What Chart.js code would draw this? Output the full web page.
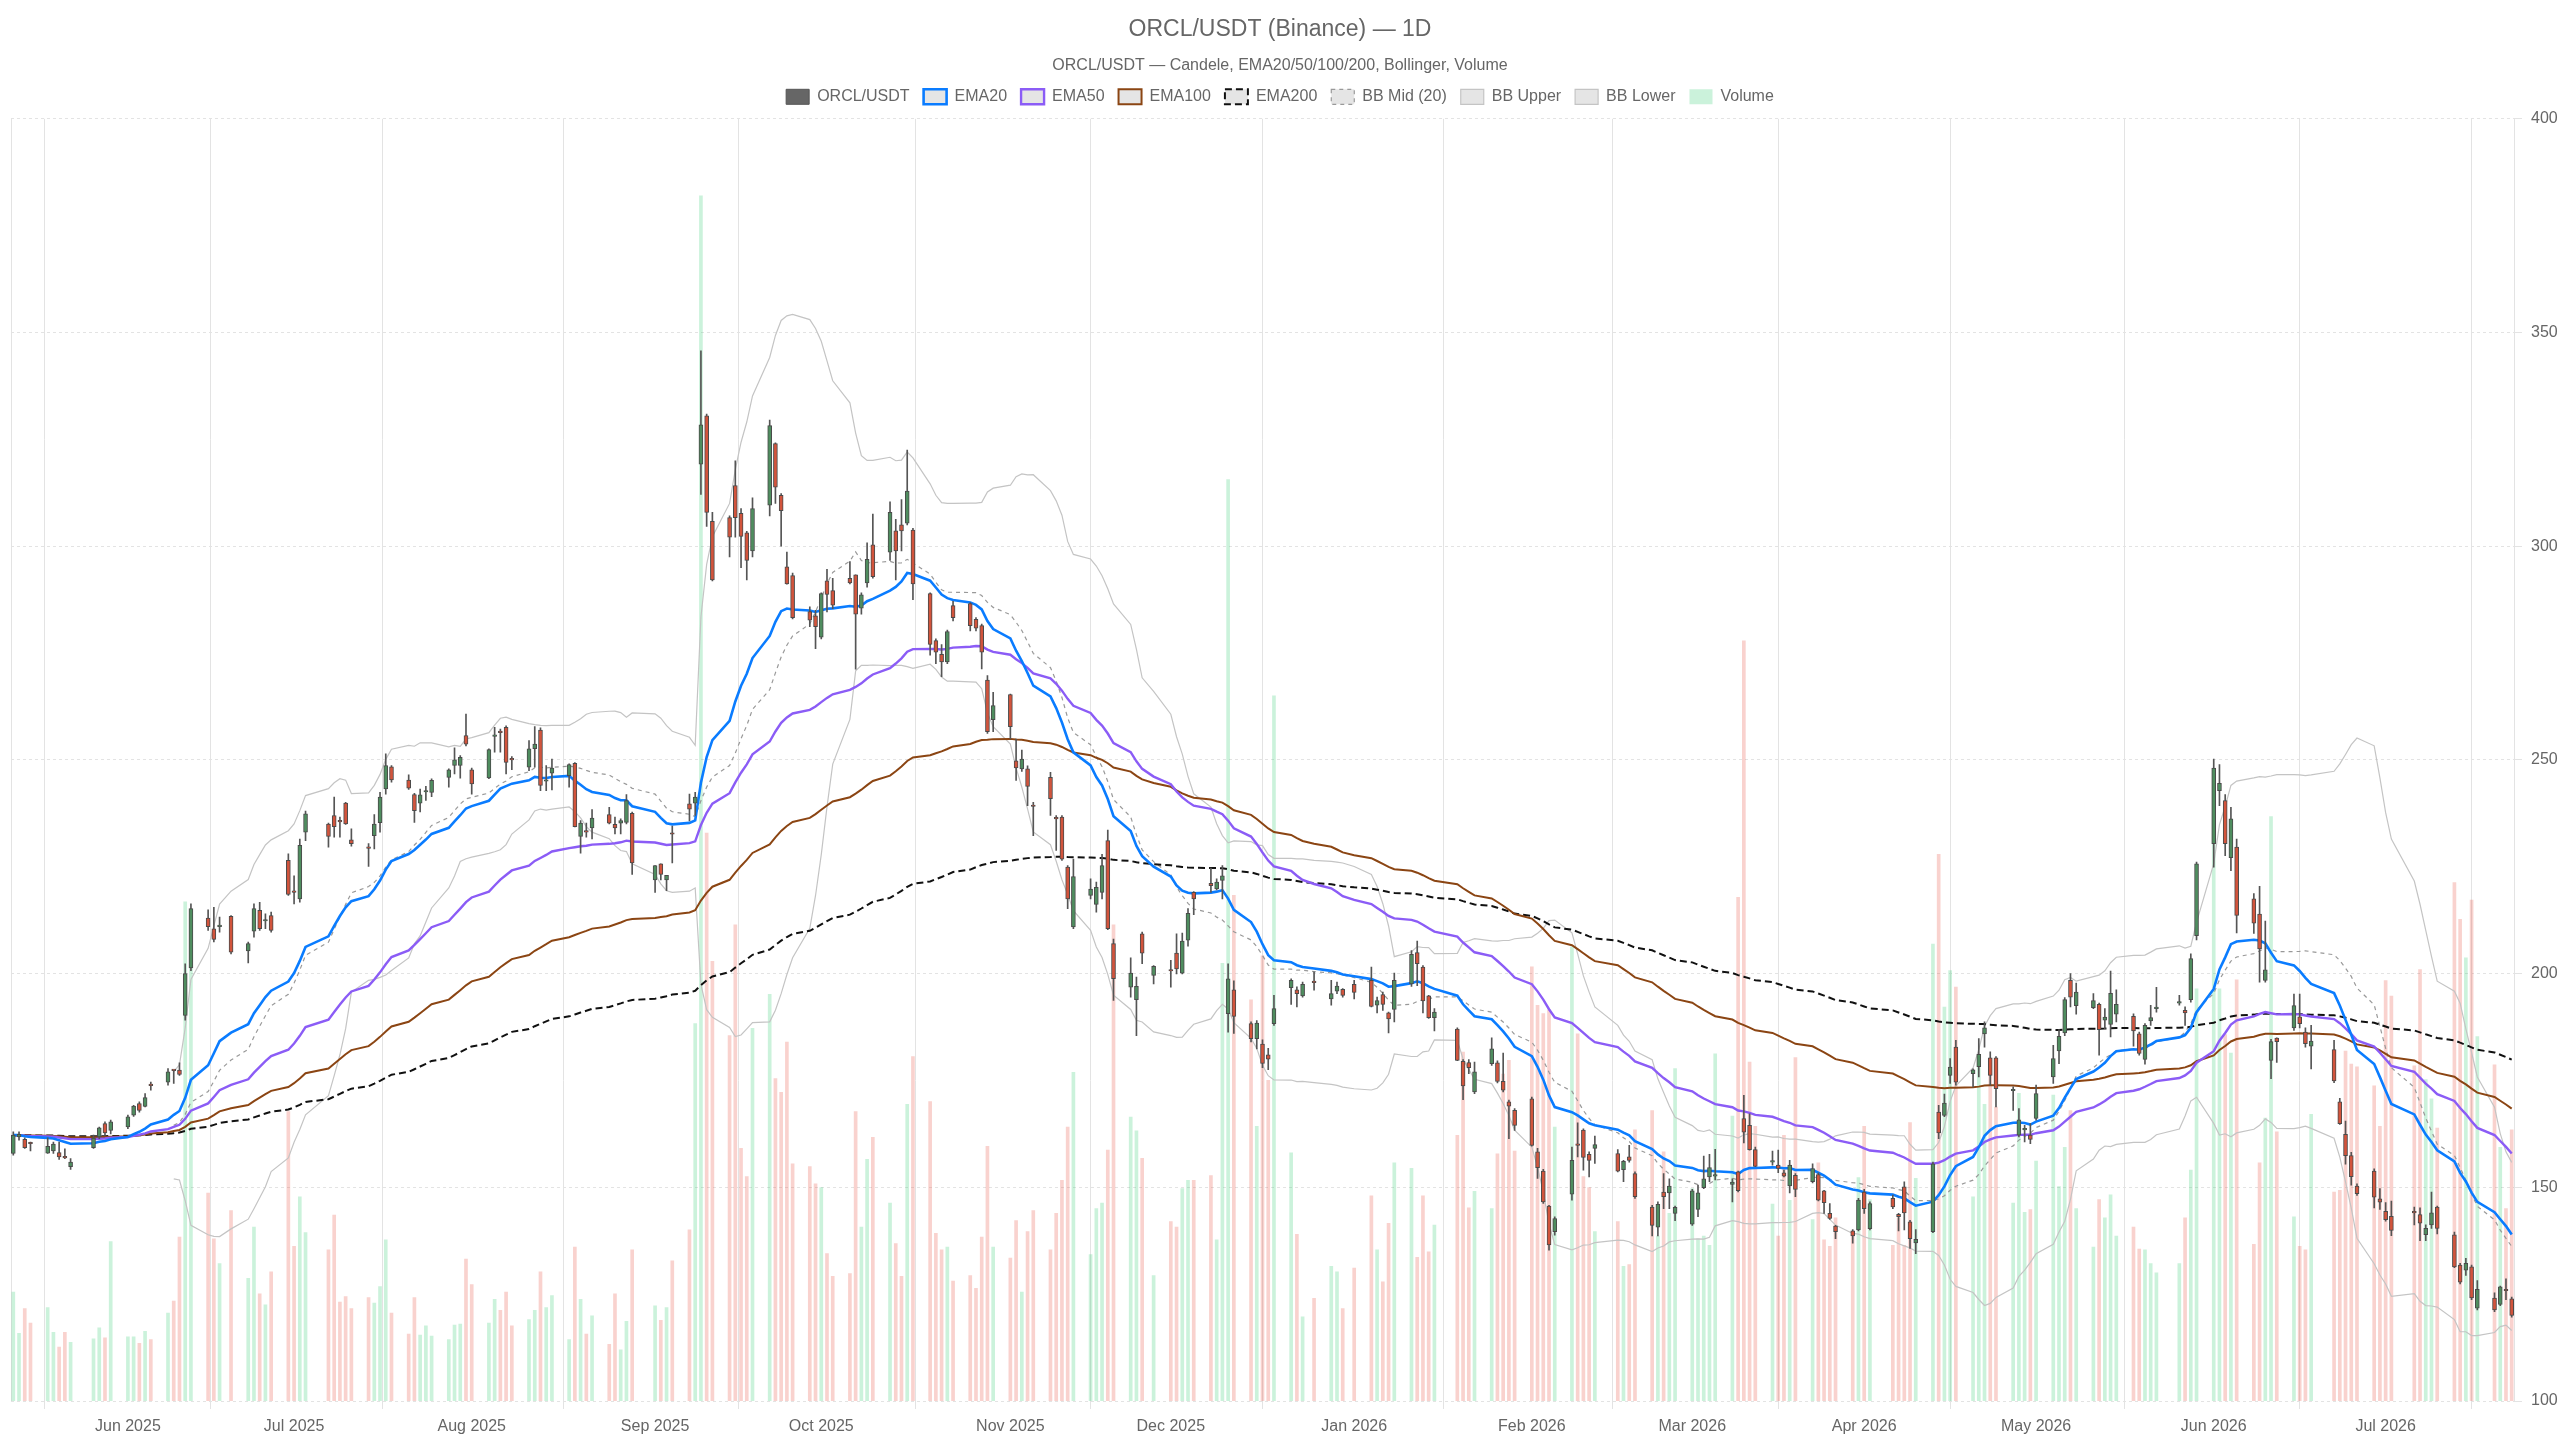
<!DOCTYPE html>
<html>
<head>
<meta charset="utf-8">
<title>ORCL/USDT (Binance) — 1D</title>
<script src="https://cdn.jsdelivr.net/npm/chart.js@4.4.1/dist/chart.umd.min.js"></script>
<style>
  html, body { margin: 0; padding: 0; background: #fff; }
  #wrap { width: 2560px; height: 1440px; }
</style>
</head>
<body>
<div id="wrap"><canvas id="candleChart"></canvas></div>
<script>
// trading calendar: weekdays between these dates, minus exchange holidays
const firstDay = '2025-05-13';
const lastDay = '2026-07-23';
const holidays = [
	'2025-05-26', '2025-06-19', '2025-07-04', '2025-09-01', '2025-11-27', '2025-12-25',
	'2026-01-01', '2026-01-19', '2026-02-16', '2026-04-03', '2026-05-25', '2026-06-19', '2026-07-03',
];

// daily candles, one line per week
const open = [
	157.9, 161.8, 161.2, 160.3,
	158.0, 158.5, 158.1, 157.2, 154.8,
	159.3, 161.8, 164.9, 163.3,
	164.1, 166.9, 169.6, 168.9, 173.9,
	174.6, 177.4, 177.4, 190.2, 201.3,
	213.0, 210.5, 211.0, 213.4,
	205.3, 209.9, 214.8, 212.3, 213.6,
	226.5, 219.1, 217.5, 233.1,
	235.0, 237.0, 235.7, 239.9, 231.3,
	229.4, 232.3, 235.3, 243.2, 248.4,
	245.3, 241.9, 239.9, 242.5, 242.4,
	245.9, 248.7, 248.7, 255.7, 247.7,
	245.8, 255.5, 256.6, 257.6, 250.2,
	248.3, 252.6, 257.0, 245.0, 246.9,
	246.3, 249.2, 232.1, 233.2, 234.1,
	237.2, 234.9, 235.2, 235.4, 237.5,
	221.9, 225.7, 221.9, 232.7,
	239.7, 239.9, 319.2, 330.5, 305.8,
	306.7, 314.2, 307.7, 303.1, 298.9,
	309.6, 324.0, 311.9, 295.2, 293.1,
	284.7, 283.7, 278.7, 291.9, 289.6,
	292.5, 293.3, 285.5, 291.4, 300.3,
	298.6, 303.6, 305.0, 305.4, 303.8,
	288.9, 277.9, 274.7, 272.9, 286.1,
	286.6, 282.9, 281.4, 268.7, 259.4,
	265.3, 249.8, 247.9, 247.9, 239.2,
	245.9, 236.3, 236.6, 224.9, 210.9,
	218.3, 216.2, 219.0, 231.1, 207.0,
	196.8, 193.9, 209.3, 199.6,
	200.7, 204.8, 200.1, 207.8, 219.0,
	221.1, 219.8, 221.8, 190.6, 196.2,
	188.3, 184.8, 183.5, 181.0, 188.3,
	196.7, 196.2, 194.8, 198.0,
	194.1, 195.9, 196.3, 197.5,
	198.4, 192.6, 195.1, 190.8, 191.6,
	197.6, 204.9, 201.5, 194.8, 189.7,
	187.0, 179.5, 179.2, 172.3,
	178.9, 179.1, 174.8, 170.0, 168.0,
	170.7, 158.3, 153.8, 145.6, 139.6,
	148.4, 159.9, 163.4, 157.7, 159.1,
	157.9, 154.1, 157.1, 153.2,
	145.4, 140.7, 148.9, 148.7, 143.9,
	141.4, 144.8, 149.9, 152.4, 152.6,
	150.7, 153.6, 166.1, 164.5, 158.8,
	155.9, 155.2, 153.4, 150.3, 152.8,
	151.3, 153.0, 149.2, 143.9, 140.9,
	139.8, 140.0, 148.9, 140.3,
	147.4, 143.7, 150.1, 141.9, 137.0,
	139.6, 167.6, 166.8, 176.2, 182.8,
	176.6, 178.2, 185.9, 180.3, 180.3,
	172.6, 162.2, 163.4, 162.2, 166.1,
	175.8, 181.9, 186.1, 198.4, 192.5,
	192.0, 192.8, 189.1, 188.1, 190.5,
	190.0, 185.9, 179.9, 188.9, 191.8,
	193.1, 191.4, 193.9, 208.9,
	230.4, 242.8, 240.5, 227.1, 229.6,
	217.5, 213.9, 198.4, 179.7, 184.9,
	187.3, 189.9, 186.3, 183.0,
	182.2, 170.0, 162.4, 157.4, 150.3,
	153.8, 147.3, 144.4, 143.2,
	144.1, 143.6, 138.9, 141.2, 145.4,
	138.9, 131.8, 130.6, 131.4, 121.7,
	124.1, 122.6, 125.9, 123.9,
];

const high = [
	163.0, 163.0, 161.6, 160.6,
	161.6, 160.6, 160.6, 159.0, 156.7,
	162.2, 164.1, 165.3, 165.7,
	166.9, 169.2, 170.0, 171.9, 174.6,
	177.8, 177.5, 179.1, 202.3, 216.3,
	214.9, 215.5, 213.2, 213.6,
	207.4, 216.3, 216.7, 214.0, 214.4,
	228.0, 222.9, 231.5, 238.0,
	235.2, 241.3, 236.6, 240.1, 233.9,
	230.4, 237.2, 242.4, 251.4, 248.7,
	246.5, 242.2, 243.2, 243.8, 245.6,
	247.9, 252.8, 251.0, 260.7, 248.1,
	252.6, 257.6, 257.2, 258.0, 250.8,
	254.5, 257.8, 257.5, 248.7, 250.2,
	249.1, 249.4, 235.8, 235.2, 238.4,
	238.9, 236.6, 236.2, 241.9, 237.8,
	225.3, 225.7, 223.0, 234.5,
	242.0, 242.4, 345.7, 330.9, 307.9,
	307.1, 320.0, 308.8, 303.5, 311.3,
	329.5, 324.2, 312.3, 298.6, 293.7,
	285.8, 285.0, 289.1, 294.6, 292.5,
	296.4, 293.3, 289.1, 300.8, 307.5,
	310.4, 306.3, 310.9, 322.5, 304.2,
	289.1, 278.3, 277.0, 280.4, 287.1,
	286.8, 283.3, 281.8, 269.7, 265.8,
	265.4, 254.9, 252.3, 248.6, 240.1,
	247.1, 237.0, 237.0, 225.3, 226.8,
	222.2, 221.4, 227.9, 233.6, 208.1,
	203.7, 199.2, 209.7, 201.9,
	203.1, 209.3, 209.5, 215.2, 219.2,
	224.7, 222.2, 225.3, 202.3, 198.3,
	188.7, 189.0, 184.5, 182.5, 194.9,
	198.8, 196.9, 198.0, 200.4,
	198.4, 198.0, 196.5, 198.4,
	201.5, 194.5, 195.7, 191.0, 200.1,
	205.4, 207.6, 201.9, 194.9, 191.8,
	187.3, 179.9, 179.9, 179.3,
	185.0, 179.6, 181.4, 170.4, 168.4,
	171.1, 159.1, 154.2, 145.8, 143.1,
	159.4, 165.1, 163.7, 158.3, 162.0,
	158.8, 156.3, 159.8, 153.6,
	145.8, 146.6, 153.2, 152.0, 145.6,
	149.5, 150.5, 157.3, 157.7, 158.9,
	152.0, 153.8, 171.5, 167.2, 159.4,
	158.5, 158.7, 154.0, 156.3, 153.2,
	155.5, 153.4, 149.3, 146.2, 141.1,
	140.1, 147.4, 149.5, 146.6,
	148.2, 143.9, 151.3, 142.3, 140.1,
	155.9, 169.2, 171.8, 180.1, 184.4,
	177.7, 184.8, 188.7, 181.7, 180.6,
	173.5, 168.4, 164.5, 164.9, 173.9,
	183.2, 186.9, 194.4, 200.0, 197.8,
	195.3, 193.1, 191.8, 200.6, 196.2,
	190.6, 186.3, 188.3, 192.6, 196.8,
	194.9, 192.2, 204.6, 226.1,
	250.2, 248.9, 241.9, 238.9, 231.5,
	218.7, 220.4, 212.3, 184.6, 185.0,
	195.2, 195.2, 187.3, 187.9,
	184.4, 170.8, 165.5, 158.2, 150.8,
	154.3, 149.7, 146.4, 146.8,
	145.4, 145.2, 141.2, 148.9, 145.6,
	139.5, 132.2, 133.4, 131.8, 128.2,
	125.3, 126.9, 128.6, 124.3,
];

const low = [
	157.5, 161.0, 159.1, 158.5,
	157.9, 157.9, 156.5, 156.7, 154.2,
	159.1, 161.4, 162.2, 162.5,
	163.7, 166.6, 167.6, 168.8, 172.7,
	173.9, 174.3, 176.2, 189.1, 200.7,
	210.1, 207.4, 209.7, 204.6,
	202.5, 208.5, 210.1, 210.5, 209.7,
	218.3, 216.3, 216.7, 231.1,
	229.6, 231.9, 231.9, 234.9, 229.8,
	225.1, 229.2, 233.1, 242.0, 244.8,
	243.1, 235.4, 237.8, 240.5, 241.4,
	243.6, 246.7, 245.7, 253.3, 242.0,
	245.6, 251.8, 251.8, 246.7, 247.7,
	247.5, 248.3, 242.8, 242.8, 243.0,
	243.6, 234.3, 228.2, 231.9, 231.5,
	235.0, 232.7, 232.7, 235.0, 223.2,
	219.0, 221.9, 219.4, 225.9,
	235.7, 237.0, 312.1, 304.6, 291.9,
	297.5, 302.1, 295.0, 292.1, 297.5,
	307.1, 310.0, 300.0, 291.1, 283.0,
	281.2, 276.0, 278.3, 284.6, 285.4,
	291.2, 271.2, 284.1, 290.4, 292.5,
	296.7, 292.1, 298.9, 305.0, 287.5,
	274.5, 272.5, 269.5, 272.5, 282.5,
	280.2, 280.2, 271.3, 256.2, 256.6,
	254.9, 245.2, 247.3, 239.3, 232.3,
	237.0, 228.8, 226.5, 215.2, 210.5,
	217.5, 214.4, 217.5, 210.3, 193.7,
	194.5, 185.5, 202.3, 197.6,
	196.8, 199.9, 199.9, 206.4, 213.8,
	219.0, 219.6, 217.5, 186.3, 186.0,
	184.0, 182.4, 178.0, 177.5, 187.9,
	192.8, 192.2, 194.5, 196.1,
	192.6, 195.3, 194.5, 194.1,
	192.2, 190.8, 191.4, 186.1, 188.7,
	197.0, 197.2, 190.8, 189.5, 186.6,
	179.6, 170.5, 176.6, 171.9,
	178.5, 174.4, 172.3, 161.4, 163.3,
	159.6, 152.1, 146.2, 135.3, 138.8,
	147.0, 157.1, 154.0, 152.4, 155.6,
	153.6, 151.3, 155.9, 147.4,
	138.6, 138.6, 145.0, 145.0, 142.2,
	141.1, 143.1, 149.7, 151.3, 151.7,
	146.6, 148.9, 160.4, 158.7, 154.8,
	155.2, 153.4, 152.4, 148.7, 147.8,
	151.0, 146.8, 143.9, 142.5, 138.0,
	136.9, 139.8, 143.9, 140.0,
	145.0, 139.8, 140.0, 135.7, 134.5,
	139.4, 161.4, 166.5, 174.3, 173.9,
	173.5, 175.8, 182.8, 173.9, 168.8,
	168.0, 161.8, 160.6, 160.2, 165.7,
	174.3, 178.9, 185.5, 192.2, 190.5,
	191.8, 180.9, 187.1, 185.2, 188.7,
	183.0, 180.9, 178.8, 187.9, 191.0,
	192.6, 187.9, 193.3, 207.9,
	224.9, 239.3, 227.6, 224.1, 209.5,
	209.4, 198.0, 198.0, 175.4, 179.2,
	186.7, 187.3, 182.8, 177.7,
	174.5, 164.7, 155.4, 150.5, 148.1,
	145.2, 144.8, 142.1, 138.7,
	141.2, 137.5, 137.5, 140.4, 139.1,
	131.2, 127.4, 129.4, 123.7, 121.3,
	120.9, 122.3, 123.7, 119.6,
];

const close = [
	162.2, 162.4, 159.3, 160.2,
	159.6, 160.1, 157.1, 156.9, 155.9,
	161.5, 163.9, 162.7, 165.3,
	166.5, 169.0, 168.0, 171.0, 173.8,
	177.0, 177.3, 176.4, 200.0, 215.2,
	211.0, 208.0, 211.1, 205.0,
	207.0, 215.2, 210.5, 212.5, 210.1,
	218.5, 219.0, 230.0, 237.4,
	232.1, 234.4, 235.5, 235.0, 230.4,
	229.3, 235.0, 241.3, 248.7, 245.3,
	243.4, 238.1, 241.8, 242.8, 245.2,
	247.7, 250.0, 250.6, 253.7, 244.4,
	252.4, 255.7, 256.4, 249.4, 250.0,
	252.6, 253.7, 244.0, 245.2, 248.1,
	248.9, 234.4, 235.2, 233.1, 236.4,
	235.2, 234.1, 235.8, 240.5, 225.9,
	225.3, 223.2, 223.0, 232.6,
	238.5, 241.3, 328.4, 307.9, 292.1,
	302.1, 306.7, 302.3, 296.7, 308.8,
	328.2, 313.8, 308.3, 291.2, 283.3,
	282.7, 281.2, 288.9, 288.7, 286.2,
	291.4, 284.1, 288.6, 296.9, 292.9,
	307.9, 298.9, 303.6, 312.9, 291.2,
	277.0, 275.2, 272.9, 280.0, 283.3,
	281.4, 280.8, 275.2, 256.6, 262.7,
	257.8, 248.1, 250.2, 243.8, 239.1,
	240.9, 236.2, 226.8, 217.5, 222.7,
	219.8, 220.2, 225.3, 210.5, 198.8,
	200.1, 197.0, 204.8, 201.7,
	200.6, 201.1, 207.6, 214.1, 217.5,
	220.6, 221.4, 222.9, 198.8, 190.0,
	184.8, 188.4, 179.0, 180.0, 191.8,
	198.4, 195.3, 197.5, 197.9,
	195.3, 197.1, 194.9, 195.6,
	192.3, 193.7, 192.8, 189.4, 198.4,
	204.5, 202.3, 193.6, 189.7, 191.0,
	179.7, 173.7, 178.0, 177.0,
	182.4, 174.8, 172.7, 169.0, 164.5,
	159.8, 154.6, 146.6, 136.5, 142.7,
	156.3, 159.8, 157.0, 156.3, 160.0,
	153.8, 156.1, 156.3, 147.8,
	141.1, 146.0, 147.8, 150.3, 145.3,
	149.2, 148.7, 152.0, 154.6, 152.7,
	151.2, 149.2, 162.9, 158.8, 154.9,
	156.0, 154.4, 152.6, 155.2, 149.5,
	154.4, 147.0, 146.4, 142.7, 139.6,
	138.6, 147.0, 145.0, 146.2,
	145.4, 143.1, 144.0, 138.0, 137.8,
	155.5, 162.7, 169.7, 178.1, 174.6,
	177.5, 181.1, 187.3, 176.2, 173.1,
	172.7, 165.8, 163.8, 161.2, 171.9,
	180.1, 185.3, 193.9, 194.5, 195.7,
	193.7, 186.9, 189.8, 195.4, 192.8,
	186.6, 181.3, 187.9, 189.7, 191.9,
	193.2, 190.8, 203.5, 225.7,
	248.1, 244.5, 230.4, 236.2, 213.6,
	211.8, 205.8, 200.9, 184.1, 184.1,
	192.5, 188.3, 183.6, 184.2,
	174.9, 164.9, 157.4, 152.5, 148.5,
	147.7, 146.5, 142.4, 139.9,
	144.0, 141.6, 140.4, 144.0, 140.4,
	131.4, 127.8, 132.2, 124.1, 126.1,
	121.3, 126.7, 125.8, 120.0,
];

// volume in millions
const volume = [
	11.9, 7.4, 10.1, 8.5,
	10.2, 7.5, 5.9, 7.5, 6.4,
	6.8, 8.0, 6.9, 17.4,
	7.0, 7.0, 6.3, 7.6, 6.7,
	9.6, 10.9, 17.9, 54.5, 52.0,
	22.7, 17.7, 15.0, 20.8,
	13.4, 19.0, 11.7, 10.5, 14.1,
	31.6, 16.9, 22.3, 18.4,
	16.5, 20.3, 10.8, 11.4, 10.1,
	11.3, 10.7, 12.5, 17.6, 9.6,
	7.3, 11.3, 7.2, 8.2, 7.1,
	6.7, 8.3, 8.4, 15.5, 12.7,
	8.5, 11.1, 9.9, 11.9, 8.2,
	8.9, 9.9, 14.1, 10.2, 11.5,
	6.7, 16.8, 11.1, 7.3, 9.3,
	6.2, 11.7, 5.6, 8.7, 16.5,
	10.4, 8.8, 10.2, 15.3,
	18.7, 41.2, 131.6, 62.0, 48.0,
	39.9, 52.0, 27.6, 24.5, 40.7,
	44.4, 35.2, 33.7, 39.2, 25.9,
	25.6, 23.7, 23.3, 16.1, 13.6,
	13.9, 31.6, 19.0, 26.4, 28.8,
	21.6, 17.2, 13.6, 32.4, 37.6,
	32.7, 18.3, 16.5, 16.8, 13.1,
	13.7, 12.3, 17.9, 27.8, 16.8,
	15.6, 19.7, 11.9, 18.5, 20.8,
	16.5, 20.5, 24.1, 29.9, 35.9,
	16.0, 21.0, 21.6, 27.4, 52.0,
	31.0, 29.5, 26.5, 13.7,
	19.6, 19.0, 23.2, 24.1, 24.1,
	24.6, 17.6, 47.8, 100.6, 55.2,
	43.8, 30.0, 48.6, 35.0, 77.0,
	27.1, 18.2, 9.2, 11.2,
	14.7, 14.1, 10.1, 14.5,
	22.4, 16.5, 13.0, 19.4, 26.0,
	25.4, 15.7, 22.4, 16.3, 19.2,
	29.0, 38.1, 21.1, 22.9,
	21.0, 27.0, 35.7, 37.2, 27.3,
	47.4, 43.2, 42.3, 42.7, 29.9,
	49.6, 40.1, 24.5, 23.3, 18.5,
	19.6, 14.7, 14.9, 29.6,
	31.7, 18.0, 27.2, 20.5, 36.3,
	23.2, 17.7, 18.0, 17.0, 37.9,
	31.1, 55.0, 83.0, 37.0, 30.0,
	21.5, 18.0, 29.0, 21.9, 37.5,
	19.8, 26.0, 17.6, 16.9, 20.0,
	18.0, 24.4, 30.0, 22.0,
	17.0, 20.0, 17.0, 30.4, 24.3,
	49.9, 59.7, 43.0, 47.0, 45.2,
	22.3, 37.7, 32.4, 35.7, 32.1,
	21.6, 33.6, 20.6, 20.9, 26.2,
	33.4, 23.4, 27.7, 31.7, 21.0,
	16.8, 22.0, 20.0, 22.5, 18.0,
	19.0, 16.6, 16.5, 15.0, 14.0,
	15.0, 20.0, 25.2, 45.0,
	64.0, 45.0, 40.0, 38.0, 46.0,
	17.1, 26.0, 30.9, 63.8, 29.4,
	20.1, 16.9, 16.5, 31.3,
	22.8, 23.0, 38.2, 36.8, 36.5,
	34.4, 30.0, 45.9, 44.2,
	36.6, 47.1, 35.1, 33.0, 29.8,
	56.6, 52.6, 48.4, 54.7, 39.8,
	36.7, 27.7, 21.0, 29.6,
];

// x axis labels sit on the first trading day of each month
const monthStarts = [
	'2025-06-01', '2025-07-01', '2025-08-01', '2025-09-01', '2025-10-01', '2025-11-01', '2025-12-01',
	'2026-01-01', '2026-02-01', '2026-03-01', '2026-04-01', '2026-05-01', '2026-06-01', '2026-07-01',
];
const monthLabels = [
	'Jun 2025', 'Jul 2025', 'Aug 2025', 'Sep 2025', 'Oct 2025', 'Nov 2025', 'Dec 2025',
	'Jan 2026', 'Feb 2026', 'Mar 2026', 'Apr 2026', 'May 2026', 'Jun 2026', 'Jul 2026',
];

const DAY = 86400000;
const dayOf = (iso) => Math.round((Date.parse(iso) - Date.parse(firstDay)) / DAY);

const buildTradingDays = () => {
	const days = [];
	for (let d = 0; d <= dayOf(lastDay); d++) {
		const dt = new Date(Date.parse(firstDay) + d * DAY);
		const wd = dt.getUTCDay();
		if (wd === 0 || wd === 6) continue;
		if (holidays.includes(dt.toISOString().slice(0, 10))) continue;
		days.push(d);
	}
	return days;
};

const ema = (values, n) => {
	const k = 2 / (n + 1);
	const out = [];
	values.forEach((v, i) => {
		out.push(i === 0 ? v : v * k + out[i - 1] * (1 - k));
	});
	return out;
};

const bollinger = (values, n, mult) => {
	const mid = [], upper = [], lower = [];
	values.forEach((v, i) => {
		if (i < n - 1) {
			mid.push(null); upper.push(null); lower.push(null);
			return;
		}
		const win = values.slice(i - n + 1, i + 1);
		const mean = win.reduce((a, b) => a + b, 0) / n;
		const sd = Math.sqrt(win.reduce((a, b) => a + (b - mean) * (b - mean), 0) / n);
		mid.push(mean); upper.push(mean + mult * sd); lower.push(mean - mult * sd);
	});
	return { mid, upper, lower };
};

const days = buildTradingDays();
if (days.length !== close.length) console.warn('calendar/data mismatch', days.length, close.length);

const UP = '#4f8d5f';
const DOWN = '#d2543c';
const isUp = days.map((d, i) => close[i] >= open[i]);

const points = (arr) => days.map((d, i) => ({ x: d, y: arr[i] }));
const bb = bollinger(close, 20, 2);

// label ticks on month openings, grid lines halfway between them (offset grid)
const labelTicks = monthStarts.map((iso) => days.find((d) => d >= dayOf(iso)));
const gridTicks = labelTicks.map((t, i) => (i === 0 ? t - (labelTicks[1] - t) / 2 : (t + labelTicks[i - 1]) / 2));
const lastTick = labelTicks[labelTicks.length - 1];
gridTicks.push(lastTick + (lastTick - labelTicks[labelTicks.length - 2]) / 2);

const labelFor = {};
labelTicks.forEach((d, i) => { labelFor[d] = monthLabels[i]; });
const gridSet = new Set(gridTicks);

const xMin = days[0] - 0.4;
const xMax = days[days.length - 1] + 0.4;

const lineSet = (label, arr, color, width, dash, order) => ({
	type: 'line',
	label: label,
	data: points(arr),
	borderColor: color,
	borderWidth: width,
	borderDash: dash || [],
	pointRadius: 0,
	pointHoverRadius: 0,
	tension: 0,
	yAxisID: 'y',
	order: order,
});

const createCandleChart = () => {
	const canvas = document.querySelector('#candleChart');
	new Chart(canvas, {
		type: 'bar',
		data: {
			datasets: [
				{
					label: 'ORCL/USDT',
					data: days.map((d, i) => ({ x: d, y: [open[i], close[i]] })),
					backgroundColor: isUp.map((u) => (u ? UP : DOWN)),
					borderColor: '#4a4a4a',
					borderWidth: 1,
					borderSkipped: false,
					barThickness: 4,
					minBarLength: 1.5,
					grouped: false,
					yAxisID: 'y',
					order: 0,
				},
				lineSet('EMA20', ema(close, 20), '#0a7cff', 2.6, null, 1),
				lineSet('EMA50', ema(close, 50), '#8b5cf6', 2.4, null, 2),
				lineSet('EMA100', ema(close, 100), '#8b4513', 2, null, 3),
				lineSet('EMA200', ema(close, 200), '#111111', 2, [7, 4], 4),
				lineSet('BB Mid (20)', bb.mid, '#999999', 1.2, [4, 4], 5),
				lineSet('BB Upper', bb.upper, '#c4c4c4', 1.2, null, 6),
				lineSet('BB Lower', bb.lower, '#c4c4c4', 1.2, null, 7),
				{
					label: 'Volume',
					data: days.map((d, i) => ({ x: d, y: volume[i] })),
					backgroundColor: isUp.map((u) => (u ? 'rgba(46, 204, 113, 0.25)' : 'rgba(231, 76, 60, 0.25)')),
					borderWidth: 0,
					barThickness: 3,
					grouped: false,
					yAxisID: 'vol',
					order: 8,
				},
				{
					label: 'wick',
					data: days.map((d, i) => ({ x: d, y: [low[i], high[i]] })),
					backgroundColor: '#555555',
					borderWidth: 0,
					barThickness: 1,
					grouped: false,
					yAxisID: 'y',
					order: 0.5,
				},
			],
		},
		options: {
			responsive: true,
			maintainAspectRatio: false,
			animation: false,
			layout: { padding: { top: 6, left: 0, right: 0, bottom: 0 } },
			plugins: {
				title: {
					display: true,
					text: 'ORCL/USDT (Binance) — 1D',
					color: '#666',
					font: { size: 23, weight: 'normal' },
					padding: { top: 10, bottom: 10 },
				},
				subtitle: {
					display: true,
					text: 'ORCL/USDT — Candele, EMA20/50/100/200, Bollinger, Volume',
					color: '#666',
					font: { size: 16 },
					padding: { top: 2, bottom: 0 },
				},
				legend: {
					position: 'top',
					labels: {
						color: '#666',
						font: { size: 16 },
						boxWidth: 23,
						boxHeight: 15,
						padding: 14,
						generateLabels: (chart) => {
							const items = Chart.defaults.plugins.legend.labels.generateLabels(chart);
							return items
								.filter((it) => it.text !== 'wick')
								.map((it) => {
									if (it.text === 'ORCL/USDT') {
										it.fillStyle = '#666666';
										it.strokeStyle = '#555555';
										it.lineWidth = 1;
									}
									if (it.text === 'Volume') {
										it.fillStyle = 'rgba(46, 204, 113, 0.25)';
										it.strokeStyle = 'rgba(0,0,0,0)';
										it.lineWidth = 0;
									}
									return it;
								});
						},
					},
				},
				tooltip: { enabled: false },
			},
			scales: {
				x: {
					type: 'linear',
					min: xMin,
					max: xMax,
					offset: false,
					afterBuildTicks: (scale) => {
						scale.ticks = labelTicks.concat(gridTicks).sort((a, b) => a - b).map((v) => ({ value: v }));
					},
					afterFit: (scale) => { scale.height = 39; },
					ticks: {
						autoSkip: false,
						maxRotation: 0,
						color: '#666',
						font: { size: 16 },
						padding: 8,
						callback: (v) => labelFor[v] || '',
					},
					grid: {
						offset: false,
						color: (c) => (c.tick && gridSet.has(c.tick.value) ? '#e3e3e3' : 'rgba(0,0,0,0)'),
						lineWidth: 1,
					},
					border: { display: false },
				},
				// empty strip between legend and plot area
				spacer: {
					type: 'linear',
					position: 'top',
					ticks: { display: false },
					grid: { display: false, drawTicks: false },
					border: { display: false },
					afterFit: (scale) => { scale.height = 4; },
				},
				y: {
					type: 'linear',
					position: 'right',
					min: 100,
					max: 400,
					afterFit: (scale) => { scale.width = 46; },
					ticks: { stepSize: 50, color: '#666', font: { size: 16 }, padding: 9 },
					grid: { color: '#e3e3e3', lineWidth: 1 },
					border: { display: true, color: '#e3e3e3', dash: [3, 3] },
				},
				vol: {
					type: 'linear',
					position: 'left',
					min: 0,
					max: 140,
					afterFit: (scale) => { scale.width = 11; },
					ticks: { display: false },
					grid: { display: false, drawTicks: false },
					border: { display: true, color: '#e3e3e3' },
				},
			},
		},
	});
};

createCandleChart();
</script>
</body>
</html>
